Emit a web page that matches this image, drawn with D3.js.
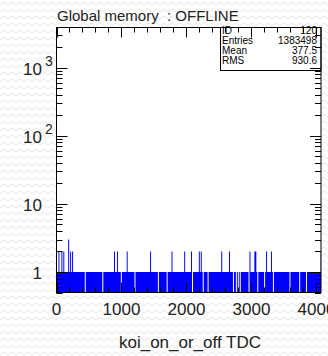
<!DOCTYPE html>
<html lang="en">
<head>
<meta charset="UTF-8">
<title>Global memory : OFFLINE</title>
<style>
    body { margin: 0; background: #fff; }
    svg { display: block; font-family: "Liberation Sans", Arial, sans-serif; }
</style>
</head>
<body>
<div id="chart"></div>
<script src="https://d3js.org/d3.v7.min.js"></script>
<script>
// histogram data
const xRange = [0, 4070];
const binWidth = 15;
const baseCount = 1;
const emptyBins = [449, 711, 992, 1208, 1566, 1695, 2095, 2255, 2335, 2658, 2720, 2762, 2797,
    2823, 2966, 3095, 3208, 3330, 3592, 3735, 3849];
const twoCountBins = [43, 80, 108, 223, 246, 889, 938, 1085, 1454, 1772, 1977, 2080, 2197, 2234,
    2542, 2669, 2977, 3054, 3070, 3234, 3311, 4065];
const threeCountBins = [185];

const xTickLabels = [0, 1000, 2000, 3000, 4000];
const yDecades = [1, 10, 100, 1000];
const stats = [["ID", "120"], ["Entries", "1383498"], ["Mean", "377.5"], ["RMS", "930.6"]];

function draw() {
    const width = 328, height = 356;
    const left = 56.5, right = 321, top = 27.5, bottom = 292.5;

    const x = d3.scaleLinear().domain(xRange).range([left, right]);
    const y = d3.scaleLog().domain([0.5, 3890]).range([bottom, top]);

    // bins
    const nBins = Math.ceil((xRange[1] - xRange[0]) / binWidth);
    const counts = new Array(nBins).fill(baseCount);
    const put = (list, c) => list.forEach(v => { counts[Math.floor(v / binWidth)] = c; });
    put(emptyBins, 0);
    put(twoCountBins, 2);
    put(threeCountBins, 3);
    const bins = counts.map((c, i) => ({ x0: i * binWidth, c }));
    bins.push({ x0: Math.min(nBins * binWidth, xRange[1]), c: counts[nBins - 1] });

    const svg = d3.select("#chart").append("svg")
        .attr("width", width)
        .attr("height", height);

    // zigzag page background
    const pat = svg.append("defs").append("pattern")
        .attr("id", "zig")
        .attr("width", 8).attr("height", 7)
        .attr("patternUnits", "userSpaceOnUse");
    pat.append("path")
        .attr("d", "M0,5 L4,2 L8,5")
        .attr("fill", "none")
        .attr("stroke", "#e6e6e6")
        .attr("stroke-width", 1);
    svg.append("rect").attr("width", width).attr("height", height).attr("fill", "#fff");
    svg.append("rect").attr("width", width).attr("height", height).attr("fill", "url(#zig)");

    // frame background
    svg.append("rect")
        .attr("x", left).attr("y", top)
        .attr("width", right - left).attr("height", bottom - top)
        .attr("fill", "#fff");

    // histogram
    const area = d3.area()
        .curve(d3.curveStepAfter)
        .x(d => x(d.x0))
        .y0(bottom)
        .y1(d => d.c > 0 ? y(d.c) : bottom);
    svg.append("path")
        .datum(bins)
        .attr("d", area)
        .attr("fill", "#0000ff")
        .attr("stroke", "none");

    // stats box
    const box = svg.append("g")
        .style("font-family", "'Liberation Sans Narrow', 'Liberation Sans', Arial, sans-serif");
    box.append("rect")
        .attr("x", 220.5).attr("y", top)
        .attr("width", right - 220.5).attr("height", 43)
        .attr("fill", "#fff")
        .attr("stroke", "#000");
    box.selectAll("g")
        .data(stats)
        .join("g")
        .attr("transform", (d, i) => `translate(0,${33.5 + i * 10.3})`)
        .call(g => g.append("text")
            .attr("x", 222)
            .attr("font-size", 10)
            .text(d => d[0]))
        .call(g => g.append("text")
            .attr("x", 317)
            .attr("text-anchor", "end")
            .attr("font-size", 10)
            .text(d => d[1]));

    // axes
    const ax = svg.append("g").attr("stroke", "#000").attr("stroke-width", 1);
    ax.append("rect")
        .attr("x", left).attr("y", top)
        .attr("width", right - left).attr("height", bottom - top)
        .attr("fill", "none");

    const xMinor = d3.range(0, xRange[1], 200).filter(v => v % 1000 !== 0);
    const xTicks = [
        ...xTickLabels.map(v => ({ v, len: 10 })),
        ...xMinor.map(v => ({ v, len: 5 }))
    ];
    ax.selectAll(".xb")
        .data(xTicks)
        .join("line")
        .attr("x1", d => Math.round(x(d.v)) + 0.5).attr("x2", d => Math.round(x(d.v)) + 0.5)
        .attr("y1", bottom).attr("y2", d => bottom - d.len);
    ax.selectAll(".xt")
        .data(xTicks)
        .join("line")
        .attr("x1", d => Math.round(x(d.v)) + 0.5).attr("x2", d => Math.round(x(d.v)) + 0.5)
        .attr("y1", top).attr("y2", d => top + d.len);

    const yMinor = [];
    [0.1, 1, 10, 100, 1000].forEach(dec => {
        for (let k = 2; k <= 9; k++) {
            const v = dec * k;
            if (v >= 0.5 && v <= 3890) yMinor.push(v);
        }
    });
    const yTicks = [
        ...yDecades.map(v => ({ v, len: 11 })),
        ...yMinor.map(v => ({ v, len: 6 }))
    ];
    ax.selectAll(".yl")
        .data(yTicks)
        .join("line")
        .attr("x1", left).attr("x2", d => left + d.len)
        .attr("y1", d => Math.round(y(d.v)) + 0.5).attr("y2", d => Math.round(y(d.v)) + 0.5);
    ax.selectAll(".yr")
        .data(yTicks)
        .join("line")
        .attr("x1", right).attr("x2", d => right - d.len)
        .attr("y1", d => Math.round(y(d.v)) + 0.5).attr("y2", d => Math.round(y(d.v)) + 0.5);

    // tick labels
    svg.append("g")
        .attr("font-size", 17)
        .attr("fill", "#222")
        .attr("text-anchor", "middle")
        .selectAll("text")
        .data(xTickLabels)
        .join("text")
        .attr("x", d => x(d))
        .attr("y", 315)
        .text(d => d);

    const yl = svg.append("g").attr("font-size", 17).attr("fill", "#222");
    yl.selectAll("text.base")
        .data(yDecades)
        .join("text")
        .attr("class", "base")
        .attr("x", 42)
        .attr("y", d => y(d) + 7)
        .attr("text-anchor", "end")
        .text(d => d === 1 ? "1" : "10");
    yl.selectAll("text.exp")
        .data(yDecades.filter(d => d >= 100))
        .join("text")
        .attr("class", "exp")
        .attr("x", 45)
        .attr("y", d => y(d) - 2)
        .attr("font-size", 14)
        .text(d => Math.round(Math.log10(d)));

    // titles
    svg.append("text")
        .attr("x", 57)
        .attr("y", 20.5)
        .attr("font-size", 15)
        .attr("fill", "#222")
        .style("white-space", "pre")
        .text("Global memory  : OFFLINE");
    svg.append("text")
        .attr("x", 190)
        .attr("y", 348)
        .attr("font-size", 17)
        .attr("fill", "#222")
        .attr("text-anchor", "middle")
        .text("koi_on_or_off TDC");
}

document.addEventListener("DOMContentLoaded", draw);
</script>
</body>
</html>
